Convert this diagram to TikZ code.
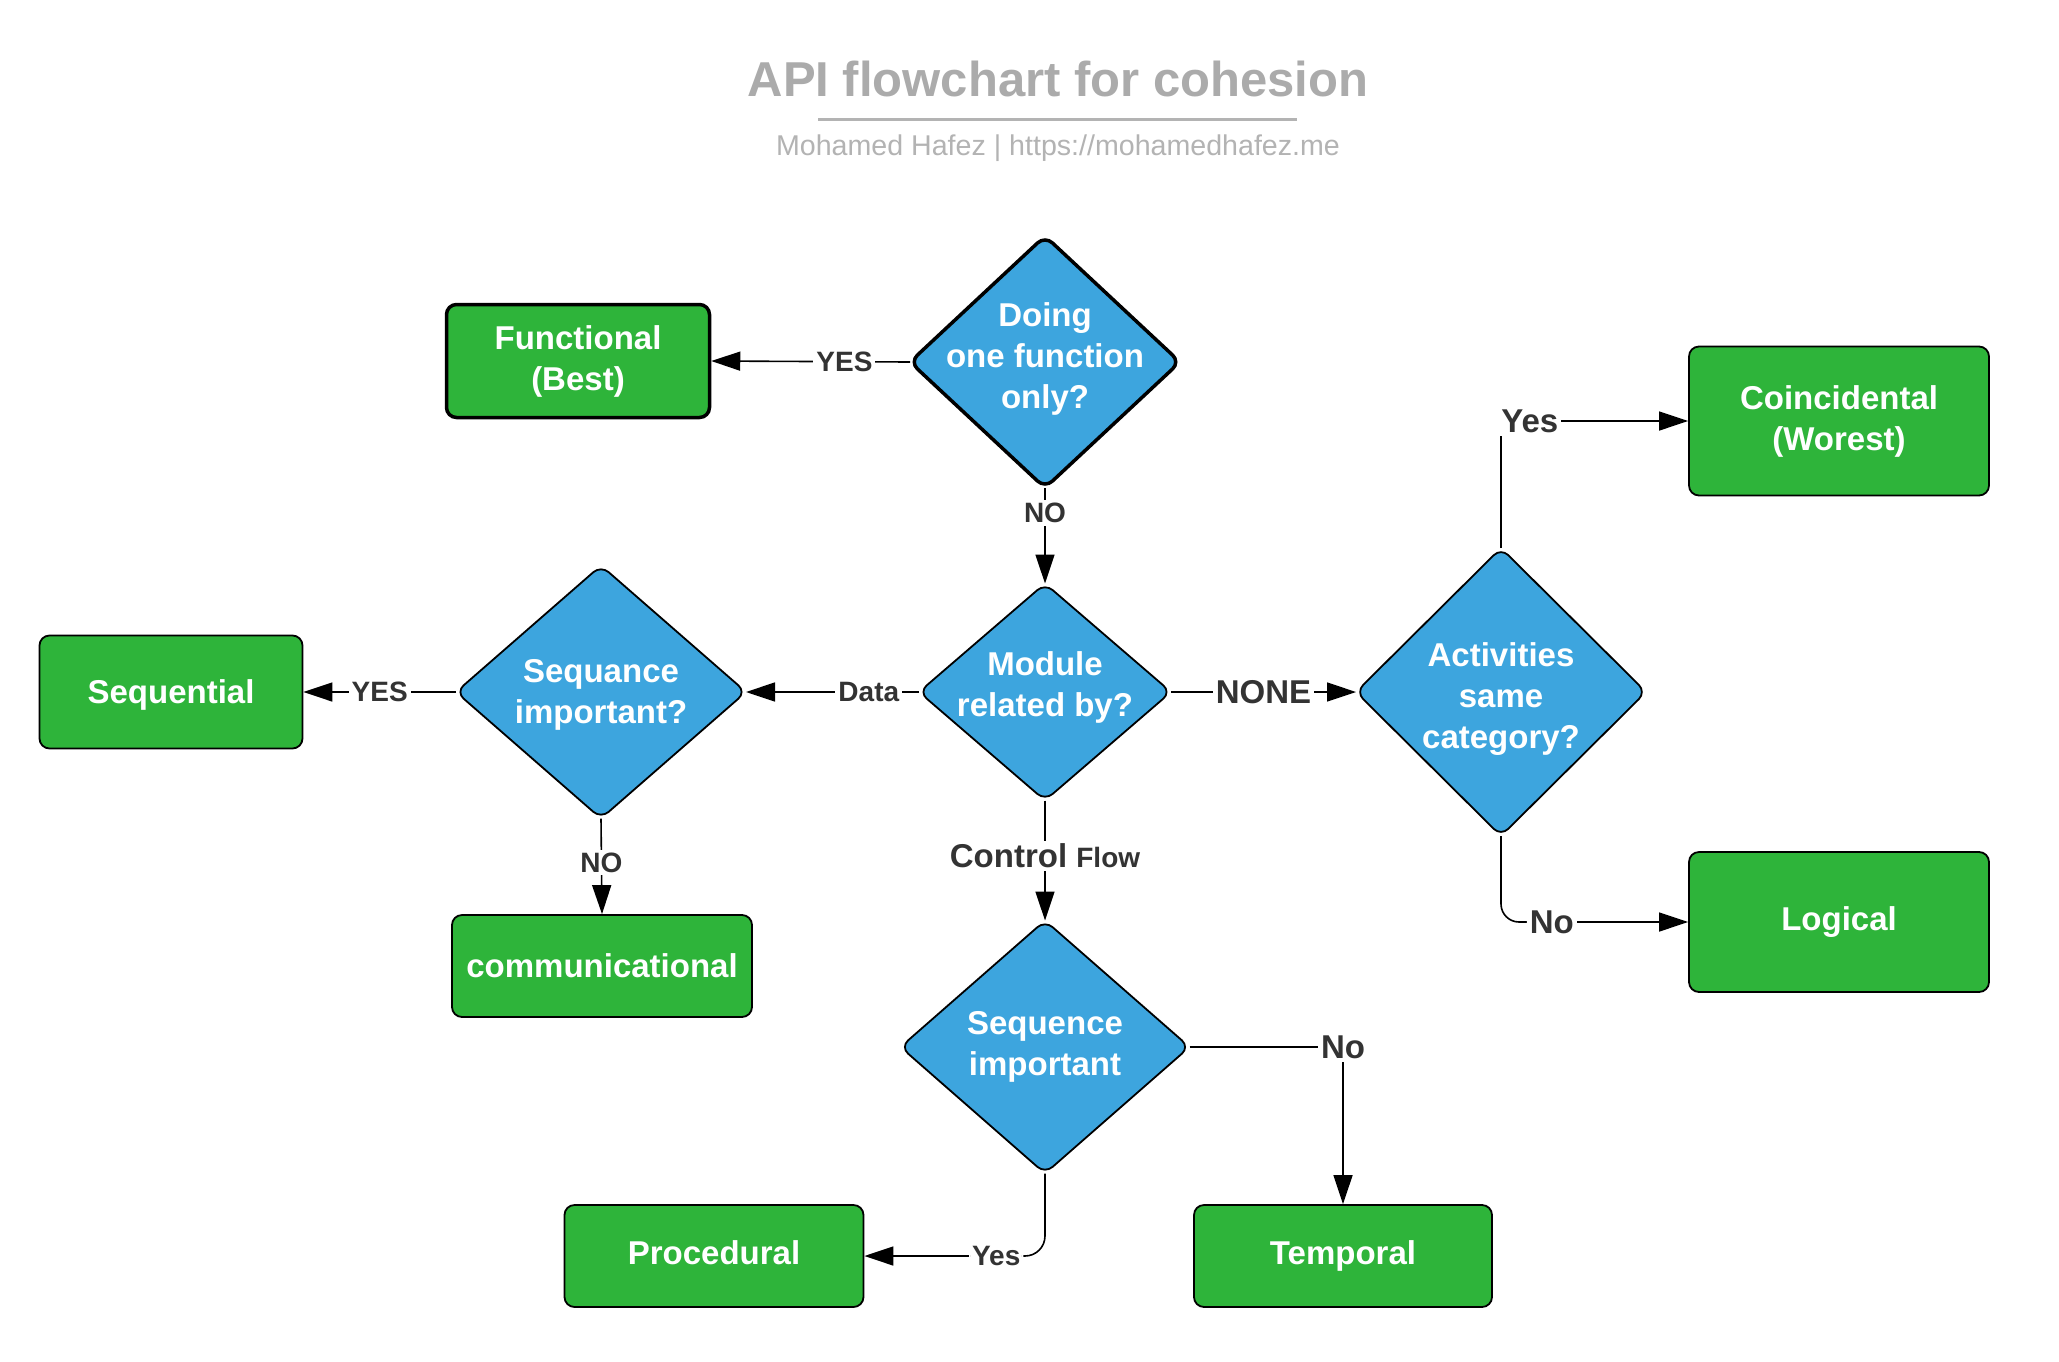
\documentclass[tikz,border=0pt]{standalone}
\usepackage{fontspec}
\setmainfont{Liberation Sans}
\usetikzlibrary{shapes.geometric,arrows.meta}
\definecolor{boxgreen}{HTML}{2EB43A}
\definecolor{diablue}{HTML}{3DA5DE}
\definecolor{titlegray}{HTML}{ABABAB}
\definecolor{subgray}{HTML}{B3B3B3}
\definecolor{lblgray}{HTML}{333333}
\begin{document}
\begin{tikzpicture}[x=1pt,y=-1pt,
  nodefont/.style={font=\bfseries\fontsize{33}{41}\selectfont},
  outbox/.style={draw=black, line width=1.8pt, fill=boxgreen, rounded corners=10pt,
    inner sep=0pt, text=white, nodefont, align=center},
  dia/.style={diamond, draw=black, line width=1.8pt, fill=diablue, rounded corners=10pt,
    inner sep=0pt, outer sep=0pt},
  diatext/.style={text=white, nodefont, align=center, inner sep=0pt},
  conn/.style={draw=black, line width=1.6pt, -{Triangle[length=29pt,width=19pt]}},
  lbl/.style={fill=white, inner sep=3pt, text=lblgray, font=\bfseries\fontsize{28}{32}\selectfont},
  lblbig/.style={lbl, font=\bfseries\fontsize{33}{38}\selectfont},
]
\useasboundingbox[fill=white] (0,0) rectangle (2059,1361);

% title
\node[anchor=base, text=titlegray, font=\bfseries\fontsize{49}{56}\selectfont] (title) at (1058,96) {API flowchart for cohesion};
\draw[subgray, line width=3pt] (818,119.5) coordinate (ulA) -- (1297,119.5) coordinate (ulB);
\node[anchor=base, text=subgray, font=\fontsize{28.6}{34}\selectfont] (subtitle) at (1058,155) {Mohamed Hafez | https://mohamedhafez.me};

% outcome boxes
\node[outbox, line width=3.5pt, minimum width=263pt, minimum height=113pt] (func) at (578,361) {Functional\\(Best)};
\node[outbox, minimum width=263pt, minimum height=113pt, text depth=0pt] (sequential) at (171,692) {Sequential};
\node[outbox, minimum width=300pt, minimum height=102pt] (comm) at (602,966) {communicational};
\node[outbox, minimum width=300pt, minimum height=149pt] (coin) at (1839,421) {Coincidental\\(Worest)};
\node[outbox, minimum width=300pt, minimum height=140pt] (logical) at (1839,922) {Logical};
\node[outbox, minimum width=298pt, minimum height=102pt] (temporal) at (1343,1256) {Temporal};
\node[outbox, minimum width=299pt, minimum height=102pt, text depth=6pt] (procedural) at (714,1256) {Procedural};

% decisions
\node[dia, line width=3.5pt, minimum width=270pt, minimum height=252pt,
  label={[diatext, yshift=3pt]center:Doing\\one function\\only?}] (doing) at (1045,362) {};
\node[dia, minimum width=252pt, minimum height=217pt,
  label={[diatext, yshift=5pt]center:Module\\related by?}] (module) at (1045,692) {};
\node[dia, minimum width=290pt, minimum height=253pt,
  label={[diatext, yshift=-3pt]center:Sequance\\important?}] (seqimp) at (601,692) {};
\node[dia, minimum width=289pt, minimum height=253pt,
  label={[diatext]center:Sequence\\important}] (seqimp2) at (1045,1047) {};
\node[dia, minimum width=290pt, minimum height=288pt,
  label={[diatext, yshift=-7pt]center:Activities\\same\\category?}] (act) at (1501,692) {};

% connectors
\draw[conn] (doing.west) -- node[lbl, pos=0.33] (lyes1) {YES} (func.east);
\draw[conn] (doing.south) -- node[lbl, pos=0.26] (lno1) {NO} (module.north);
\draw[conn] (module.west) -- node[lbl, pos=0.29] (ldata) {Data} (seqimp.east);
\draw[conn] (seqimp.west) -- node[lbl, pos=0.5] (lyes2) {YES} (sequential.east);
\draw[conn] (seqimp.south) -- node[lbl, pos=0.46] (lno2) {NO} (comm.north);
\draw[conn] (module.south) -- node[lbl, pos=0.46] (lcf) {\fontsize{33}{38}\selectfont Control\ \fontsize{28}{32}\selectfont Flow} (seqimp2.north);
\draw[conn] (module.east) -- node[lblbig, pos=0.5] (lnone) {NONE} (act.west);
\draw[conn] (act.north) |- node[lblbig, pos=0.577] (lyes3) {Yes} (coin.west);
\draw[conn, rounded corners=18pt] (act.south) |- node[lblbig, pos=0.636] (lno3) {No} (logical.west);
\draw[conn] (seqimp2.east) -| node[lblbig, pos=0.5] (lno4) {No} (temporal.north);
\draw[conn, rounded corners=20pt] (seqimp2.south) |- node[lbl, pos=0.635] (lyes4) {Yes} (procedural.east);
\end{tikzpicture}
\end{document}
